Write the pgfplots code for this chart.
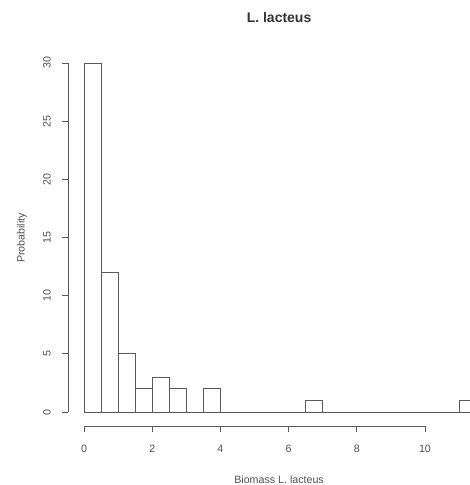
\documentclass[border=0pt]{standalone}
\usepackage{pgfplots}
\pgfplotsset{compat=1.18}
\usepackage{fontspec}
\setmainfont{Liberation Sans}
\definecolor{ln}{HTML}{5A5A5A}
\definecolor{tx}{HTML}{505050}
\begin{document}
\begin{tikzpicture}
\begin{axis}[
 at={(51pt,44.25pt)}, anchor=south west,
 scale only axis, width=301.5pt, height=272.25pt,
 xmin=-0.47, xmax=11.32, ymin=-1.2, ymax=30,
 axis line style={draw=none},
 clip mode=individual,
 xtick={0,2,...,10}, ytick={0,5,...,30},
 xtick pos=bottom, ytick pos=left,
 tick align=outside, major tick length=4.5pt,
 tick style={ln, line width=0.6pt},
 /pgf/number format/assume math mode=true,
 ticklabel style={font=\fontsize{8}{9}\selectfont, text=tx},
 xticklabel style={yshift=-6.5pt},
 yticklabel style={rotate=90, anchor=south},
 yticklabel shift=5pt,
 title={L. lacteus},
 every axis title/.style={at={(axis description cs:0.525,1.125)}, anchor=center, font=\bfseries\fontsize{10.5}{12}\selectfont, text=black!80},
 xlabel={Biomass L. lacteus},
 xlabel style={at={(axis description cs:0.525,-0.147)}, anchor=center, font=\fontsize{8}{9}\selectfont, text=tx},
 ylabel={Probability},
 ylabel style={at={(axis description cs:-0.115,0.518)}, anchor=center, rotate=0, font=\fontsize{8}{9}\selectfont, text=tx},
]
\addplot[ybar interval, draw=ln, fill=white, line width=0.6pt] coordinates {
(0,30)(0.5,12)(1,5)(1.5,2)(2,3)(2.5,2)(3,0)(3.5,2)(4,0)(4.5,0)(5,0)(5.5,0)(6,0)(6.5,1)(7,0)(7.5,0)(8,0)(8.5,0)(9,0)(9.5,0)(10,0)(10.5,0)(11,1)(11.5,1)};
\draw[ln, line width=0.6pt] (axis cs:-0.47,0) -- (axis cs:-0.47,30);
\draw[ln, line width=0.6pt] (axis cs:0,-1.2) -- (axis cs:10,-1.2);
\end{axis}
\pgfresetboundingbox
\path (0,0) rectangle (352.5pt,363.75pt);
\end{tikzpicture}
\end{document}
